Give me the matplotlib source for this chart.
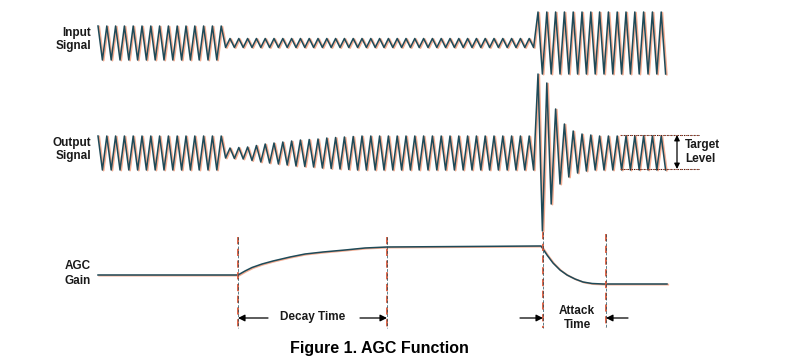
import matplotlib
matplotlib.use("Agg")
import matplotlib.pyplot as plt

# ---- data (pixel units, y grows downwards) ----
HALF = 4.4                       # half period of the carrier

in_bounds = [98, 222, 535, 667]  # input segments
in_amps = [17, 4.5, 31]
in_center = 43

out_bounds = [98, 222, 380, 535, 605, 667]
out_center = 153
out_level = 17
# amplitude per cycle while gain recovers (decay)
decay_amps = [5, 5.5, 6, 7.5, 9, 10, 11, 12, 13, 13.5, 14, 15, 15.5, 16, 16.5, 17, 17, 17]
# amplitude per vertex during attack
attack_amps = [79, 78, 70, 51, 44, 31, 29, 24, 22, 20, 19, 18, 18, 17, 17, 17]

gain_x = [98, 238, 245, 252, 262, 273, 290, 305, 323, 345, 365, 387, 541,
          547, 553, 560, 567, 575, 583, 592, 603, 667]
gain_y = [275, 275, 271, 267.5, 264, 261, 257, 254, 252, 250, 248, 247, 246,
          255, 263, 270, 275, 279, 282, 283.5, 284, 284]

marker_x = [238, 387, 543, 606]
marker_top = [237, 237, 232, 234]

DARK = "#1e4a58"
SHADOW = "#f2a486"
RED = "#d8593c"


def input_vertices():
    xs, ys = [], []
    i = 0
    x = in_bounds[0]
    while x <= in_bounds[-1]:
        seg = 0
        while seg < len(in_amps) - 1 and x >= in_bounds[seg + 1]:
            seg += 1
        sign = -1 if i % 2 == 0 else 1
        xs.append(x)
        ys.append(in_center + sign * in_amps[seg])
        i += 1
        x = in_bounds[0] + i * HALF
    return xs, ys


def output_vertices():
    xs, ys = [], []
    i = 0
    x = out_bounds[0]
    k_decay = 0
    k_attack = 0
    while x <= out_bounds[-1]:
        if out_bounds[1] <= x < out_bounds[2]:
            a = decay_amps[min(k_decay // 2, len(decay_amps) - 1)]
            k_decay += 1
        elif out_bounds[3] <= x < out_bounds[4]:
            a = attack_amps[min(k_attack, len(attack_amps) - 1)]
            k_attack += 1
        else:
            a = out_level
        sign = -1 if i % 2 == 0 else 1
        xs.append(x)
        ys.append(out_center + sign * a)
        i += 1
        x = out_bounds[0] + i * HALF
    return xs, ys


def draw_trace(ax, xs, ys):
    ax.plot([v + 1.2 for v in xs], [v + 0.6 for v in ys], color=SHADOW, lw=1.3, alpha=0.9)
    ax.plot(xs, ys, color=DARK, lw=1.1)


fig = plt.figure(figsize=(7.93, 3.59), dpi=100)
ax = fig.add_axes([0, 0, 1, 1])
ax.set_xlim(0, 793)
ax.set_ylim(359, 0)
ax.axis("off")

xi, yi = input_vertices()
draw_trace(ax, xi, yi)
xo, yo = output_vertices()
draw_trace(ax, xo, yo)
draw_trace(ax, gain_x, gain_y)

for mx, mt in zip(marker_x, marker_top):
    ax.plot([mx, mx], [mt, 328], color=RED, lw=1.3, ls=(0, (4, 2.5)))
    ax.plot([mx - 0.5, mx - 0.5], [mt, 328], color=DARK, lw=0.5, ls=(0, (4, 2.5)))

# target level guides
for ty in [135, 169]:
    ax.plot([620, 700], [ty, ty], color=RED, lw=0.8, ls=(0, (1.5, 1.5)))
    ax.plot([620, 700], [ty, ty], color="black", lw=0.5, ls=(1.5, (1.5, 1.5)))
arr = dict(arrowstyle="<|-|>", color="black", lw=0.9, mutation_scale=8, shrinkA=0, shrinkB=0)
ax.annotate("", xy=(677, 135), xytext=(677, 169), arrowprops=arr)

one = dict(arrowstyle="-|>", color="black", lw=0.9, mutation_scale=10, shrinkA=0, shrinkB=0)
ax.annotate("", xy=(238, 318), xytext=(268, 318), arrowprops=one)
ax.annotate("", xy=(387, 318), xytext=(360, 318), arrowprops=one)
ax.annotate("", xy=(543, 318), xytext=(520, 318), arrowprops=one)
ax.annotate("", xy=(606, 318), xytext=(628, 318), arrowprops=one)

font = dict(family="Liberation Sans", fontweight="bold", fontsize=8.5, color="#1a1a1a")
ax.text(91, 33, "Input", ha="right", va="center", **font)
ax.text(91, 46, "Signal", ha="right", va="center", **font)
ax.text(91, 143, "Output", ha="right", va="center", **font)
ax.text(91, 156, "Signal", ha="right", va="center", **font)
ax.text(91, 266, "AGC", ha="right", va="center", **font)
ax.text(91, 281, "Gain", ha="right", va="center", **font)
ax.text(685, 145, "Target", ha="left", va="center", **font)
ax.text(685, 159, "Level", ha="left", va="center", **font)
ax.text(313, 317, "Decay Time", ha="center", va="center", **font)
ax.text(577, 311, "Attack", ha="center", va="center", **font)
ax.text(577, 325, "Time", ha="center", va="center", **font)

ax.text(379, 349, "Figure 1. AGC Function", ha="center", va="center",
        family="Liberation Sans", fontweight="bold", fontsize=11.5, color="black")

fig.savefig("out.png", dpi=100)
